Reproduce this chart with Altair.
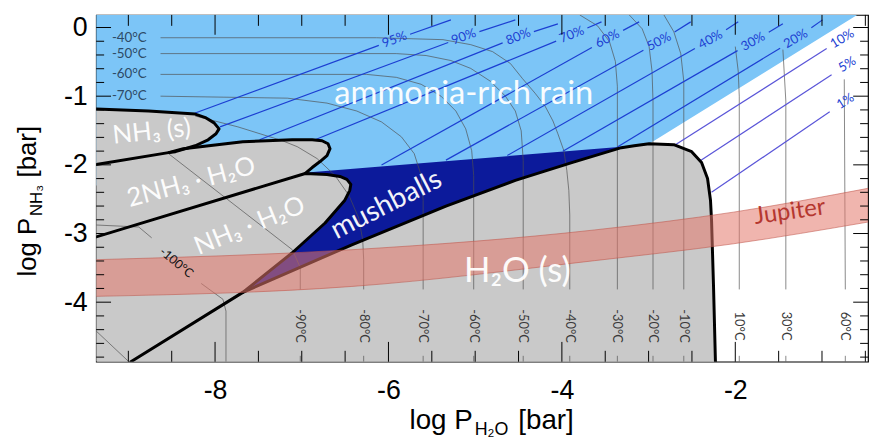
import altair as alt
import pandas as pd

# ---------------- frame ----------------
X_DOMAIN = [-9.371, -0.469]     # log P_H2O [bar]
Y_DOMAIN = [-4.867, 0.183]      # log P_NH3 [bar]
W, H = 779, 350
FONT = "Lato"
AXFONT = "Liberation Sans"

# ---------------- phase boundaries (log P_H2O, log P_NH3) ----------------
bnd_nh3_ice = [(-9.371, -1.188), (-8.766, -1.216), (-8.229, -1.26), (-8.103, -1.317), (-8.011, -1.389),
               (-7.954, -1.476), (-7.989, -1.548), (-8.08, -1.635), (-8.229, -1.722), (-8.457, -1.808),
               (-8.537, -1.822)]
bnd_dihydrate = [(-9.371, -1.996), (-8.537, -1.822), (-8.366, -1.765), (-7.68, -1.664), (-7.109, -1.635),
                 (-6.88, -1.635), (-6.766, -1.649), (-6.697, -1.693), (-6.674, -1.765), (-6.709, -1.866),
                 (-6.789, -1.952), (-6.88, -2.039), (-6.96, -2.126)]
bnd_monohydrate = [(-9.371, -3.049), (-6.96, -2.126), (-6.709, -2.141), (-6.56, -2.169), (-6.48, -2.212),
                   (-6.434, -2.284), (-6.446, -2.371), (-6.503, -2.515), (-6.731, -2.847), (-7.109, -3.28),
                   (-7.68, -3.857), (-8.971, -4.867)]
bnd_water_ice = [(-7.68, -3.857), (-6.423, -3.164), (-5.337, -2.602), (-4.537, -2.226), (-3.886, -1.967),
                 (-3.314, -1.75), (-3.166, -1.722), (-2.994, -1.693), (-2.709, -1.707), (-2.503, -1.808),
                 (-2.389, -1.967), (-2.32, -2.198), (-2.286, -2.515), (-2.274, -2.803), (-2.251, -3.771),
                 (-2.229, -4.867)]
mush_top = [(-6.937, -2.111), (-3.166, -1.722)]
rain_region = [(-9.371, 0.183), (-0.594, 0.183), (-3.029, -1.722), (-3.166, -1.722),
               (-6.366, -2.299), (-9.371, -2.299)]

# ---------------- Jupiter band ----------------
jup_x = [-9.371, -6.423, -3.623, -2.023, -0.469]
jup_top = [-3.381, -3.236, -2.948, -2.689, -2.342]
jup_bot = [-3.915, -3.771, -3.395, -3.15, -2.833]

# ---------------- liquid composition lines ----------------
conc_lab = ["95%", "90%", "80%", "70%", "60%", "50%", "40%", "30%", "20%", "10%", "5%", "1%"]
conc_x0 = [-8.229, -7.943, -7.486, -6.846, -6.08, -5.337, -4.629, -3.989, -3.36, -2.709, -2.4, -2.274]
conc_y0 = [-1.245, -1.447, -1.635, -1.635, -2.003, -1.931, -1.863, -1.801, -1.74, -1.722, -1.938, -2.4]
conc_xl = [-5.931, -5.131, -4.503, -3.886, -3.474, -2.88, -2.286, -1.794, -1.303, -0.766, -0.709, -0.731]
conc_yl = [-0.177, -0.134, -0.134, -0.105, -0.163, -0.206, -0.177, -0.206, -0.163, -0.163, -0.538, -1.072]
conc_x1 = [-5.28, -4.537, -4.046, -3.543, -3.109, -2.514, -1.966, -1.451, -0.994, None, None, None]
conc_y1 = [0.111, 0.111, 0.053, 0.082, 0.082, 0.082, 0.082, 0.053, 0.111, None, None, None]
conc_ang = [20, 20, 22, 22, 27, 28, 29, 29, 30, 31, 31, 32]

# ---------------- isotherms ----------------
iso_curves = {
    "m40": [(-8.629, -0.149), (-6.137, -0.149), (-5.371, -0.177), (-5.051, -0.25), (-4.8, -0.351),
            (-4.594, -0.524), (-4.457, -0.74), (-4.309, -0.957), (-4.194, -1.144), (-4.103, -1.361),
            (-4.046, -1.548), (-3.977, -1.794), (-3.943, -2.082), (-3.92, -2.371), (-3.909, -2.731),
            (-3.909, -3.814)],
    "m50": [(-8.629, -0.38), (-5.909, -0.38), (-5.566, -0.408), (-5.28, -0.481), (-5.051, -0.596),
            (-4.823, -0.784), (-4.651, -1.0), (-4.537, -1.216), (-4.469, -1.505), (-4.446, -1.938),
            (-4.446, -3.814)],
    "m60": [(-8.629, -0.683), (-6.251, -0.683), (-5.909, -0.726), (-5.623, -0.827), (-5.394, -1.0),
            (-5.223, -1.216), (-5.109, -1.476), (-5.04, -1.794), (-5.017, -2.155), (-5.017, -3.814)],
    "m70": [(-8.629, -1.0), (-7.166, -1.029), (-6.709, -1.101), (-6.366, -1.216), (-6.08, -1.375),
            (-5.851, -1.592), (-5.703, -1.837), (-5.623, -2.155), (-5.6, -2.515), (-5.6, -3.814)],
    "m80": [(-8.229, -1.289), (-7.737, -1.447), (-7.223, -1.649), (-7.051, -1.736),
            (-6.823, -1.909), (-6.617, -2.155), (-6.457, -2.443), (-6.343, -2.775), (-6.297, -3.093),
            (-6.286, -3.381), (-6.286, -3.814)],
    "m90": [(-8.537, -1.837), (-7.109, -3.236), (-7.017, -3.496), (-7.017, -3.814)],
    "m100a": [(-9.371, -2.876), (-8.88, -2.905), (-8.731, -3.063)],
    "m100b": [(-8.16, -3.727), (-7.909, -3.958), (-7.874, -4.131), (-7.874, -4.867)],
    "m110": [(-9.371, -4.42), (-8.994, -4.867)],
    "m30": [(-3.794, 0.183), (-3.589, 0.025), (-3.451, -0.206), (-3.383, -0.495), (-3.36, -0.856),
            (-3.36, -3.814)],
    "m20": [(-3.223, 0.183), (-3.074, -0.019), (-2.994, -0.278), (-2.96, -0.639), (-2.949, -1.072),
            (-2.949, -3.814)],
    "m10": [(-2.823, 0.183), (-2.709, -0.062), (-2.629, -0.38), (-2.594, -0.784), (-2.594, -3.814)],
    "p10": [(-2.0, -0.278), (-1.966, -0.639), (-1.954, -1.0), (-1.954, -3.814)],
    "p30": [(-1.451, -0.322), (-1.417, -1.072), (-1.417, -3.814)],
    "p60": [(-0.743, -0.755), (-0.731, -3.814)],
}
iso_left_lab = ["-40°C", "-50°C", "-60°C", "-70°C"]
iso_left_y = [-0.149, -0.38, -0.683, -1.0]
iso_left_x = -9.19
iso_bot_lab = ["-90°C", "-80°C", "-70°C", "-60°C", "-50°C", "-40°C", "-30°C", "-20°C", "-10°C",
               "10°C", "30°C", "60°C"]
iso_bot_x = [-7.017, -6.286, -5.6, -5.017, -4.446, -3.909, -3.36, -2.949, -2.594, -1.954, -1.417, -0.731]
iso_bot_y = -4.348
iso_stub_y = [-4.781, -4.867]

# ---------------- ticks ----------------
xt_major = [-8, -6, -4, -2]
xt_minor = [-9, -8.5, -7.5, -7, -6.5, -5.5, -5, -4.5, -3.5, -3, -2.5, -1.5, -1, -0.5]
yt_major = [0, -1, -2, -3, -4]
yt_minor = [-0.2, -0.4, -0.6, -0.8, -1.2, -1.4, -1.6, -1.8, -2.2, -2.4, -2.6, -2.8,
            -3.2, -3.4, -3.6, -3.8, -4.2, -4.4, -4.6, -4.8]

# ---------------- colours ----------------
C_RAIN = "#7cc5f7"
C_ICE = "#c9c9c9"
C_MUSH = "#0c1a9b"
C_JUP = "#e4786c"

# =====================================================================
xs = alt.Scale(domain=X_DOMAIN, nice=False, zero=False)
ys = alt.Scale(domain=Y_DOMAIN, nice=False, zero=False)
MINUS = "\u2212"
xaxis = alt.Axis(values=xt_major, title=None, ticks=False, domain=False, grid=False,
                 labelFont=AXFONT, labelFontSize=27, labelColor="black", labelPadding=16,
                 labelExpr="replace(datum.label, '" + MINUS + "', '-')")
yaxis = alt.Axis(values=yt_major, title=None, ticks=False, domain=False, grid=False,
                 labelFont=AXFONT, labelFontSize=27, labelColor="black", labelPadding=9,
                 labelExpr="replace(datum.label, '" + MINUS + "', '-')")
X = alt.X("x:Q", scale=xs, axis=xaxis)
Y = alt.Y("y:Q", scale=ys, axis=yaxis)


def pts_df(pts, key="a"):
    return pd.DataFrame({"x": [p[0] for p in pts], "y": [p[1] for p in pts],
                         "i": list(range(len(pts))), "k": key})


def polygon(pts, color):
    return alt.Chart(pts_df(pts)).mark_line(
        interpolate="linear-closed", filled=True, color=color, clip=True
    ).encode(x=X, y=Y, order="i:Q")


def outline(pts, color="black", width=3.0):
    return alt.Chart(pts_df(pts)).mark_line(
        color=color, strokeWidth=width, clip=True, strokeJoin="round", strokeCap="round"
    ).encode(x=X, y=Y, order="i:Q")


layers = []

# regions
poly_nh3s = bnd_nh3_ice + [(-9.371, -1.996)]
poly_di = bnd_dihydrate + [(-9.371, -3.049)]
poly_mono = bnd_monohydrate + [(-9.371, -4.867)]
poly_ice = bnd_water_ice + [(-8.971, -4.867)]
poly_mush = mush_top + bnd_water_ice[5::-1] + bnd_monohydrate[9:1:-1]

layers.append(polygon(rain_region, C_RAIN))
layers.append(polygon(poly_mush, C_MUSH))
for p in (poly_nh3s, poly_di, poly_mono, poly_ice):
    layers.append(polygon(p, C_ICE))

# isotherms
rows = []
for name, pts in iso_curves.items():
    for i, (x, y) in enumerate(pts):
        rows.append({"x": x, "y": y, "i": i, "k": name})
for j, x in enumerate(iso_bot_x):
    for i, y in enumerate(iso_stub_y):
        rows.append({"x": x, "y": y, "i": i, "k": "stub%d" % j})
iso_df = pd.DataFrame(rows)
layers.append(alt.Chart(iso_df).mark_line(color="#505050", strokeWidth=0.9, opacity=0.75, clip=True)
              .encode(x=X, y=Y, detail="k:N", order="i:Q"))

# composition lines (split around their labels)
GAP = 0.18
crow = []
for n in range(len(conc_lab)):
    x0, y0, xl, yl = conc_x0[n], conc_y0[n], conc_xl[n], conc_yl[n]
    col = "violet" if n >= 9 else "blue"
    t = 1 - GAP / (xl - x0)
    crow.append({"x": x0, "y": y0, "i": 0, "k": "a%d" % n, "c": col})
    crow.append({"x": x0 + t * (xl - x0), "y": y0 + t * (yl - y0), "i": 1, "k": "a%d" % n, "c": col})
    if conc_x1[n] is not None:
        x1, y1 = conc_x1[n], conc_y1[n]
        s = GAP / (x1 - xl)
        crow.append({"x": xl + s * (x1 - xl), "y": yl + s * (y1 - yl), "i": 0, "k": "b%d" % n, "c": col})
        crow.append({"x": x1, "y": y1, "i": 1, "k": "b%d" % n, "c": col})
conc_df = pd.DataFrame(crow)
layers.append(alt.Chart(conc_df).mark_line(strokeWidth=1.2, clip=True).encode(
    x=X, y=Y, detail="k:N", order="i:Q",
    color=alt.Color("c:N", scale=alt.Scale(domain=["blue", "violet"], range=["#1c3fd2", "#5a55d8"]),
                    legend=None)))

# phase boundaries
for b in (bnd_nh3_ice, bnd_dihydrate, bnd_monohydrate, bnd_water_ice):
    layers.append(outline(b))

# Jupiter band
jdf = pd.DataFrame({"x": jup_x, "y": jup_bot, "y2": jup_top})
layers.append(alt.Chart(jdf).mark_area(color=C_JUP, opacity=0.55, interpolate="monotone", clip=True)
              .encode(x=X, y=Y, y2="y2:Q"))
jrows = [{"x": x, "y": y, "k": "bot"} for x, y in zip(jup_x, jup_bot)] + \
        [{"x": x, "y": y, "k": "top"} for x, y in zip(jup_x, jup_top)]
layers.append(alt.Chart(pd.DataFrame(jrows)).mark_line(color="#c0554b", strokeWidth=0.8, opacity=0.7,
                                                      interpolate="monotone", clip=True)
              .encode(x=X, y=Y, detail="k:N"))

# composition labels
cl_df = pd.DataFrame({"x": conc_xl, "y": conc_yl, "t": conc_lab, "a": [360 - a for a in conc_ang]})
layers.append(alt.Chart(cl_df).mark_text(font=FONT, fontSize=13, color="#1c3fd2")
              .encode(x=X, y=Y, text="t:N", angle=alt.Angle("a:Q", scale=None)))

# isotherm labels
layers.append(alt.Chart(pd.DataFrame({"x": [iso_left_x] * 4, "y": iso_left_y, "t": iso_left_lab}))
              .mark_text(font=FONT, fontSize=13.5, color="#2d4a66", align="left")
              .encode(x=X, y=Y, text="t:N"))
layers.append(alt.Chart(pd.DataFrame({"x": iso_bot_x, "y": [iso_bot_y] * len(iso_bot_x), "t": iso_bot_lab}))
              .mark_text(font=FONT, fontSize=13, color="#3a3a3a", angle=90)
              .encode(x=X, y=Y, text="t:N"))
layers.append(alt.Chart(pd.DataFrame({"x": [-8.446], "y": [-3.424], "t": ["-100°C"]}))
              .mark_text(font=FONT, fontSize=12.5, color="#111111", angle=40)
              .encode(x=X, y=Y, text="t:N"))

# region labels
region_lab = ["ammonia-rich rain", "NH₃ (s)", "2NH₃ · H₂O", "NH₃ · H₂O", "mushballs", "H₂O (s)"]
region_x = [-5.131, -8.731, -8.274, -7.6, -6.023, -4.514]
region_y = [-0.971, -1.52, -2.255, -2.89, -2.588, -3.554]
region_ang = [0, 354, 345, 338, 333, 0]
region_size = [33, 26, 26, 26, 28, 35]
for t, x, y, a, s in zip(region_lab, region_x, region_y, region_ang, region_size):
    layers.append(alt.Chart(pd.DataFrame({"x": [x], "y": [y], "t": [t]}))
                  .mark_text(font=FONT, fontSize=s, color="white", angle=a, opacity=0.95)
                  .encode(x=X, y=Y, text="t:N"))
layers.append(alt.Chart(pd.DataFrame({"x": [-1.371], "y": [-2.689], "t": ["Jupiter"]}))
              .mark_text(font=FONT, fontSize=24, color="#b5372f", angle=352)
              .encode(x=X, y=Y, text="t:N"))

# ticks (inside the frame)
def tick_layers():
    out = []
    for vals, ln in ((xt_major, 20), (xt_minor, 11)):
        df = pd.DataFrame({"x": vals})
        out.append(alt.Chart(df).mark_rule(color="black", strokeWidth=1)
                   .encode(x=X, y=alt.value(H), y2=alt.value(H - ln)))
        out.append(alt.Chart(df).mark_rule(color="black", strokeWidth=1)
                   .encode(x=X, y=alt.value(0), y2=alt.value(ln)))
    for vals, ln in ((yt_major, 15), (yt_minor, 8)):
        df = pd.DataFrame({"y": vals})
        out.append(alt.Chart(df).mark_rule(color="black", strokeWidth=1)
                   .encode(y=Y, x=alt.value(0), x2=alt.value(ln)))
        out.append(alt.Chart(df).mark_rule(color="black", strokeWidth=1)
                   .encode(y=Y, x=alt.value(W), x2=alt.value(W - ln)))
    return out


layers += tick_layers()

# axis titles with subscripts
tdf = pd.DataFrame({"t": ["a"]})
def free_text(text, px, py, size, angle=0, align="left"):
    return alt.Chart(tdf).mark_text(text=text, font=AXFONT, fontSize=size, color="black",
                                    align=align, baseline="alphabetic", angle=angle
                                    ).encode(x=alt.value(px), y=alt.value(py))

layers += [
    free_text("log P", 380, 418, 28, align="right"),
    free_text("H₂O", 382, 424, 18),
    free_text("[bar]", 426, 418, 28),
    free_text("log P", -61, 264, 26, angle=270),
    free_text("NH₃", -55, 203, 17, angle=270),
    free_text("[bar]", -61, 164, 26, angle=270),
]

chart = alt.layer(*layers).properties(
    width=W, height=H,
    autosize=alt.AutoSizeParams(type="none"),
    padding={"left": 89, "top": 5, "right": 4, "bottom": 77},
).configure_view(stroke="black", strokeWidth=1.2)

chart.save("out.html", embed_options={"renderer": "svg", "actions": False})
